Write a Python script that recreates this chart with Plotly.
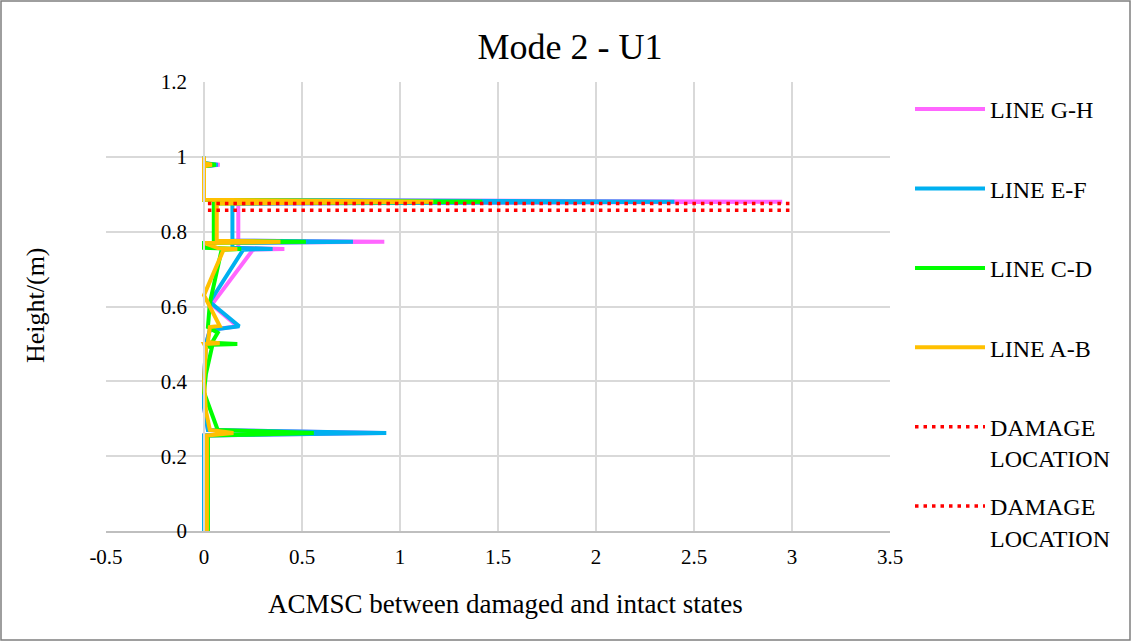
import plotly.graph_objects as go

# ---- data (ACMSC value, height) ----
gh_acmsc = [0.0, 0.0, 0.90, 0.02, 0.0, 0.0, 0.01, 0.03, 0.17, 0.04, 0.25, 0.41, 0.175, 0.175, 0.92, 0.175, 0.175, 2.95, 0.0, 0.0, 0.08, 0.0, 0.0]
gh_height = [0.0, 0.255, 0.262, 0.27, 0.33, 0.40, 0.50, 0.537, 0.547, 0.605, 0.752, 0.754, 0.757, 0.77, 0.773, 0.776, 0.875, 0.88, 0.885, 0.975, 0.979, 0.983, 1.0]

ef_acmsc = [0.0, 0.0, 0.93, 0.02, 0.0, 0.0, 0.01, 0.03, 0.18, 0.03, 0.20, 0.35, 0.145, 0.145, 0.76, 0.145, 0.145, 2.40, 0.0, 0.0, 0.07, 0.0, 0.0]
ef_height = [0.0, 0.255, 0.262, 0.27, 0.33, 0.40, 0.50, 0.537, 0.547, 0.612, 0.752, 0.754, 0.757, 0.77, 0.773, 0.776, 0.875, 0.88, 0.885, 0.975, 0.979, 0.983, 1.0]

cd_acmsc = [0.02, 0.02, 0.56, 0.07, 0.0, 0.01, 0.04, 0.0, 0.17, 0.04, 0.07, 0.02, 0.03, 0.09, 0.19, 0.0, 0.0, 0.52, 0.05, 0.05, 1.42, 0.0, 0.0, 0.06, 0.0, 0.0]
cd_height = [0.0, 0.255, 0.262, 0.27, 0.37, 0.42, 0.49, 0.497, 0.50, 0.503, 0.53, 0.545, 0.61, 0.752, 0.754, 0.757, 0.77, 0.773, 0.776, 0.875, 0.88, 0.885, 0.975, 0.979, 0.983, 1.0]

ab_acmsc = [0.015, 0.015, 0.15, 0.03, 0.01, 0.0, 0.01, 0.0, 0.08, 0.02, 0.03, 0.08, 0.0, 0.10, 0.17, 0.07, 0.0, 0.39, 0.065, 0.065, 1.17, 0.0, 0.0, 0.04, 0.0, 0.0]
ab_height = [0.0, 0.255, 0.262, 0.27, 0.32, 0.40, 0.49, 0.50, 0.502, 0.505, 0.545, 0.548, 0.63, 0.752, 0.754, 0.756, 0.77, 0.773, 0.776, 0.875, 0.88, 0.885, 0.975, 0.979, 0.983, 1.0]

damage_acmsc = [0.02, 3.0]
damage1_height = [0.875, 0.875]
damage2_height = [0.857, 0.857]

series_names = ["LINE G-H", "LINE E-F", "LINE C-D", "LINE A-B"]
series_colors = ["#FF66FF", "#00B0F0", "#00FF00", "#FFC000"]
x_ticks = [-0.5, 0, 0.5, 1, 1.5, 2, 2.5, 3, 3.5]
x_ticktext = ["-0.5", "0", "0.5", "1", "1.5", "2", "2.5", "3", "3.5"]
y_ticks = [0, 0.2, 0.4, 0.6, 0.8, 1, 1.2]
y_ticktext = ["0", "0.2", "0.4", "0.6", "0.8", "1", "1.2"]

FONT = "Liberation Serif, Times New Roman, serif"

fig = go.Figure()
for name, color, xs, ys in zip(series_names, series_colors,
                               [gh_acmsc, ef_acmsc, cd_acmsc, ab_acmsc],
                               [gh_height, ef_height, cd_height, ab_height]):
    fig.add_trace(go.Scatter(x=xs, y=ys, mode="lines", name=name + "<br> ",
                             legendgroup=name,
                             line=dict(color=color, width=4)))

for i, ys in enumerate([damage1_height, damage2_height]):
    fig.add_trace(go.Scatter(x=damage_acmsc, y=ys, mode="lines",
                             name="DAMAGE<br>LOCATION", legendgroup="dmg%d" % i,
                             line=dict(color="#FF0000", width=3.5, dash="3.5px,5px")))

W, H = 1132, 643
L, R, T, B = 106, 242, 82, 112
pw, ph = W - L - R, H - T - B

fig.update_layout(
    width=W, height=H,
    margin=dict(l=L, r=R, t=T, b=B),
    paper_bgcolor="white", plot_bgcolor="white",
    font=dict(family=FONT, color="#000000", size=21),
    title=dict(text="Mode 2 - U1", x=570 / W, xanchor="center", xref="container",
               y=1 - 46 / H, yanchor="middle",
               font=dict(family=FONT, size=36, color="#000000")),
    showlegend=True,
    legend=dict(x=(910 - L) / pw, y=(H - B - 87) / ph, xanchor="left", yanchor="top",
                traceorder="grouped", tracegroupgap=14, itemwidth=70, valign="top",
                maxheight=620,
                font=dict(family=FONT, size=24, color="#000000"),
                bgcolor="rgba(0,0,0,0)"),
    xaxis=dict(range=[-0.5, 3.5], tickvals=x_ticks, ticktext=x_ticktext, showgrid=True,
               gridcolor="#D9D9D9", gridwidth=1.5, zeroline=False,
               showline=True, linecolor="#BFBFBF", linewidth=1.5,
               ticks="", tickfont=dict(family=FONT, size=21), ticklabelstandoff=6),
    yaxis=dict(range=[0, 1.2], tickvals=y_ticks, ticktext=y_ticktext, showgrid=True,
               gridcolor="#D9D9D9", gridwidth=1.5, zeroline=False,
               anchor="free", position=0.5 / 4.0,
               showline=True, linecolor="#D9D9D9", linewidth=1.5,
               ticks="", tickfont=dict(family=FONT, size=21), ticklabelstandoff=12),
)

fig.add_annotation(text="ACMSC between damaged and intact states", xref="paper", yref="paper",
                   x=(505 - L) / pw, y=(H - B - 604) / ph,
                   xanchor="center", yanchor="middle",
                   showarrow=False, font=dict(family=FONT, size=27, color="#000000"))

fig.add_annotation(text="Height/(m)", xref="paper", yref="paper",
                   x=(35 - L) / pw, y=(H - B - 305) / ph, textangle=-90,
                   xanchor="center", yanchor="middle",
                   showarrow=False, font=dict(family=FONT, size=26, color="#000000"))

# chart-area border
fig.add_shape(type="rect", xref="paper", yref="paper",
              x0=(1 - L) / pw, x1=(W - 2 - L) / pw,
              y0=(H - B - (H - 3)) / ph, y1=(H - B - 1) / ph,
              line=dict(color="#7F7F7F", width=1.5), fillcolor="rgba(0,0,0,0)",
              layer="below")

fig.write_html("out.html")
